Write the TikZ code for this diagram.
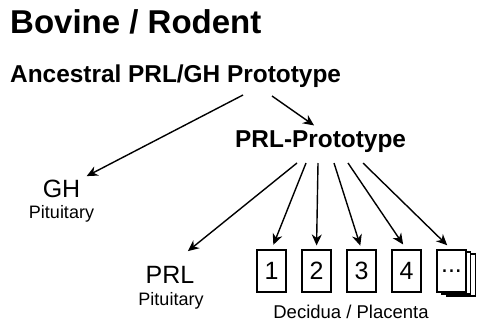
\documentclass[tikz,border=0pt]{standalone}
\usepackage{fontspec}
\setmainfont{Liberation Sans}
\usetikzlibrary{arrows.meta}
\begin{document}
\begin{tikzpicture}[x=1pt,y=-1pt,
  lbl/.style={inner sep=0pt, anchor=base},
  bighead/.style={font=\fontsize{33}{33}\selectfont\bfseries},
  midhead/.style={font=\fontsize{24.4}{24.4}\selectfont\bfseries},
  gene/.style={font=\fontsize{25}{25}\selectfont},
  tissue/.style={font=\fontsize{18}{18}\selectfont},
  arr/.style={line width=1.4pt, -{Stealth[length=11pt,width=10pt,inset=3.5pt]}},
  numbox/.style={draw, line width=1.1pt, minimum width=29pt, minimum height=42pt, inner sep=0pt, font=\fontsize{25}{25}\selectfont, fill=white},
]
\useasboundingbox (0,0) rectangle (478,322);

\node[lbl, anchor=base west, bighead] (title) at (10,33) {Bovine / Rodent};
\node[lbl, anchor=base west, midhead] (anc) at (10,82) {Ancestral PRL/GH Prototype};
\node[lbl, anchor=base west, midhead] (proto) at (235,147) {PRL-Prototype};

\node[lbl, gene] (gh) at (61.5,197) {GH};
\node[lbl, tissue] (ghp) at (61.5,218) {Pituitary};
\node[lbl, gene] (prl) at (170,283) {PRL};
\node[lbl, tissue] (prlp) at (171,305) {Pituitary};

\node[numbox] (b1) at (271.5,271) {1};
\node[numbox] (b2) at (316.5,271) {2};
\node[numbox] (b3) at (361.5,271) {3};
\node[numbox] (b4) at (406.5,271) {4};
\node[numbox] (b5c) at (461,275) {};
\node[numbox] (b5b) at (456,273) {};
\node[numbox] (b5) at (451.5,271) {...};

\node[lbl, font=\fontsize{18.5}{18.5}\selectfont] (dp) at (351,318) {Decidua / Placenta};

\coordinate (a1) at (243,95);
\coordinate (a2) at (272,96);
\draw[arr, shorten >=7pt] (a1) -- (gh.north east);
\draw[arr, shorten >=8pt] (a2) -- (proto.north);

\coordinate (f1) at (297,163);
\coordinate (f2) at (306,163);
\coordinate (f3) at (318,163);
\coordinate (f4) at (334,163);
\coordinate (f5) at (348,163);
\coordinate (f6) at (363,163);
\draw[arr, shorten >=23pt] (f1) -- (prl.north);
\draw[arr, shorten >=5pt] (f2) -- (b1.north);
\draw[arr, shorten >=4pt] (f3) -- (b2.north);
\draw[arr, shorten >=4pt] (f4) -- (b3.north);
\draw[arr, shorten >=6pt] (f5) -- (b4.north);
\draw[arr, shorten >=6pt] (f6) -- (b5.north);
\end{tikzpicture}
\end{document}
